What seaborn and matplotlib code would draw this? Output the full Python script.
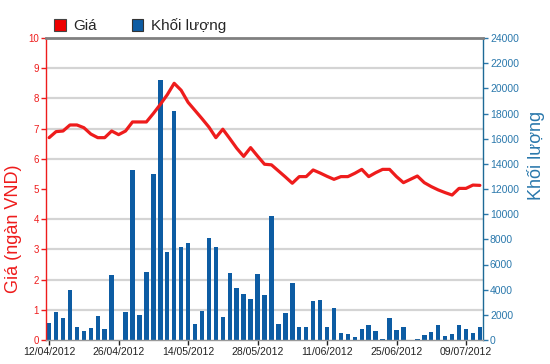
import matplotlib
matplotlib.use("Agg")
import matplotlib.pyplot as plt
from matplotlib.patches import Patch
from matplotlib.ticker import MultipleLocator
import seaborn as sns
import pandas as pd

# trading days 12/04/2012 - 11/07/2012
dates = [
    "12/04/2012", "13/04/2012", "16/04/2012", "17/04/2012", "18/04/2012", "19/04/2012",
    "20/04/2012", "23/04/2012", "24/04/2012", "25/04/2012", "26/04/2012", "27/04/2012",
    "02/05/2012", "03/05/2012", "04/05/2012", "07/05/2012", "08/05/2012", "09/05/2012",
    "10/05/2012", "11/05/2012", "14/05/2012", "15/05/2012", "16/05/2012", "17/05/2012",
    "18/05/2012", "21/05/2012", "22/05/2012", "23/05/2012", "24/05/2012", "25/05/2012",
    "28/05/2012", "29/05/2012", "30/05/2012", "31/05/2012", "01/06/2012", "04/06/2012",
    "05/06/2012", "06/06/2012", "07/06/2012", "08/06/2012", "11/06/2012", "12/06/2012",
    "13/06/2012", "14/06/2012", "15/06/2012", "18/06/2012", "19/06/2012", "20/06/2012",
    "21/06/2012", "22/06/2012", "25/06/2012", "26/06/2012", "27/06/2012", "28/06/2012",
    "29/06/2012", "02/07/2012", "03/07/2012", "04/07/2012", "05/07/2012", "06/07/2012",
    "09/07/2012", "10/07/2012", "11/07/2012",
]

# Giá (ngàn VND)
price = [
    6.7, 6.9, 6.92, 7.12, 7.12, 7.03, 6.82, 6.7, 6.7, 6.92, 6.8, 6.92,
    7.22, 7.22, 7.22, 7.5, 7.8, 8.12, 8.5, 8.27, 7.87, 7.6, 7.33, 7.05,
    6.7, 6.98, 6.67, 6.35, 6.08, 6.37, 6.09, 5.82, 5.8, 5.6, 5.4, 5.19,
    5.41, 5.41, 5.63, 5.53, 5.42, 5.32, 5.41, 5.41, 5.52, 5.65, 5.41, 5.54,
    5.65, 5.65, 5.41, 5.21, 5.32, 5.43, 5.21, 5.08, 4.97, 4.88, 4.8, 5.02,
    5.02, 5.13, 5.12,
]

# Khối lượng
volume = [
    1330, 2190, 1760, 3970, 1070, 750, 960, 1920, 850, 5200, 0, 2190,
    13500, 1960, 5400, 13160, 20700, 6970, 18170, 7430, 7720, 1270, 2330, 8120,
    7430, 1830, 5320, 4170, 3690, 3270, 5220, 3590, 9850, 1270, 2120, 4550,
    1050, 1050, 3100, 3210, 1050, 2520, 570, 460, 200, 890, 1160, 680,
    100, 1750, 760, 1050, 0, 100, 380, 650, 1160, 300, 490, 1160,
    870, 520, 1050,
]

tick_labels = dates[::10]

df = pd.DataFrame({"date": dates, "price": price, "volume": volume})
df["pos"] = range(len(df))

RED = "#ee1c1c"
BLUE = "#0d5ca3"
TEAL = "#2a78ac"

sns.set_style("white")
plt.rcParams["font.family"] = ["Liberation Sans", "DejaVu Sans"]

fig = plt.figure(figsize=(5.5, 3.64), dpi=100)
ax = fig.add_axes([46 / 550, 24 / 364, 437 / 550, 302 / 364])
ax2 = ax.twinx()

# volume bars (lower axes)
sns.barplot(data=df, x="date", y="volume", order=dates, color=BLUE,
            saturation=1, width=0.65, linewidth=0, ax=ax2)
ax2.set_ylim(0, 24000)
ax2.set_yticks(range(0, 24001, 2000))
ax2.yaxis.set_minor_locator(MultipleLocator(2400))
ax2.grid(which="minor", axis="y", color="#d4d4d4", lw=1.6)
ax2.set_axisbelow(True)
ax2.tick_params(axis="y", which="major", colors=TEAL, labelsize=7.5,
                length=3.5, width=1, pad=1.5, direction="out")
ax2.tick_params(axis="y", which="minor", length=0)
ax2.set_ylabel("Khối lượng", color=TEAL, fontsize=13)
ax2.yaxis.set_label_coords(1.1, 0.61)

# price line (upper axes)
ax.set_zorder(ax2.get_zorder() + 1)
ax.patch.set_visible(False)
sns.lineplot(data=df, x="pos", y="price", color=RED, lw=2.3, ax=ax)
ax.set_ylim(0, 10)
ax.set_yticks(range(0, 11))
ax.tick_params(axis="y", colors=RED, labelsize=7, length=3.5, width=1,
               pad=1.5, direction="out", left=True)
ax.set_ylabel("Giá (ngàn VND)", color=RED, fontsize=13)
ax.yaxis.set_label_coords(-0.056, 0.37)

ax.set_xlim(-0.45, len(dates) - 0.55)
ax.set_xticks(range(0, len(dates), 10))
ax.set_xticklabels(tick_labels)
ax.set_xlabel("")
ax2.set_xlabel("")
ax.tick_params(axis="x", colors="#222222", labelsize=7.5, length=3.5,
               width=1, pad=1.5, direction="out", bottom=True)

for a in (ax, ax2):
    for s in a.spines.values():
        s.set_visible(False)
ax.spines["left"].set_visible(True)
ax.spines["left"].set_color(RED)
ax.spines["left"].set_linewidth(1)
ax2.spines["right"].set_visible(True)
ax2.spines["right"].set_color("#1d6a96")
ax2.spines["right"].set_linewidth(1)
ax.spines["top"].set_visible(True)
ax.spines["top"].set_color("#808080")
ax.spines["top"].set_linewidth(2)
ax.spines["bottom"].set_visible(True)
ax.spines["bottom"].set_color("#9a9a9a")
ax.spines["bottom"].set_linewidth(1)

handles = [Patch(facecolor="#ee0000", edgecolor="#444444", lw=0.8),
           Patch(facecolor=BLUE, edgecolor="#333333", lw=0.8)]
fig.legend(handles, ["Giá", "Khối lượng"], loc="center left",
           bbox_to_anchor=(48 / 550, 1 - 26 / 364), ncol=2, frameon=False,
           fontsize=11, handlelength=0.75, handleheight=0.75,
           handletextpad=0.5, columnspacing=2.3, borderaxespad=0)

fig.savefig("out.png", dpi=100)
